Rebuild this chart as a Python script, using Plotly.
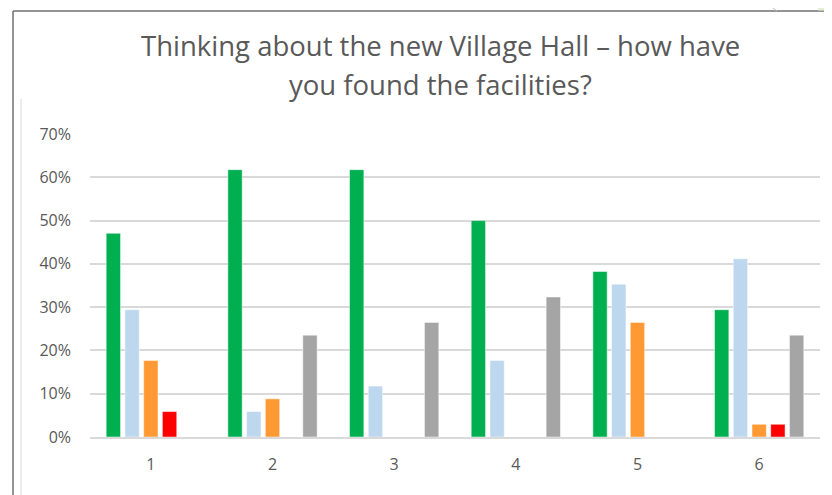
import plotly.graph_objects as go

categories = ["1", "2", "3", "4", "5", "6"]
series_names = ["Series A", "Series B", "Series C", "Series D", "Series E"]
green = [0.4706, 0.6176, 0.6176, 0.50, 0.3824, 0.2941]
light_blue = [0.2941, 0.0588, 0.1176, 0.1765, 0.3529, 0.4118]
orange = [0.1765, 0.0882, 0.0, 0.0, 0.2647, 0.0294]
red = [0.0588, 0.0, 0.0, 0.0, 0.0, 0.0294]
gray = [0.0, 0.2353, 0.2647, 0.3235, 0.0, 0.2353]
y_ticks = [0, 0.1, 0.2, 0.3, 0.4, 0.5, 0.6, 0.7]
y_tick_labels = ["0%", "10%", "20%", "30%", "40%", "50%", "60%", "70%"]
title_lines = ["Thinking about the new Village Hall – how have", "you found the facilities?"]

colors = ["#00B050", "#BDD7EE", "#FF9933", "#FF0000", "#A5A5A5"]
values = [green, light_blue, orange, red, gray]
FONT = "Open Sans, Lato, sans-serif"

fig = go.Figure()
for name, vals, col in zip(series_names, values, colors):
    fig.add_trace(go.Bar(
        x=categories, y=vals, name=name,
        marker=dict(color=col, line=dict(color="rgba(255,255,255,0.6)", width=0.8)),
    ))

# page has an 8px body margin: work in figure coordinates = viewport - 8
OFF = 8
W, H = 832, 495
L, T = 90 - OFF, 134 - OFF
R = W - (820 - OFF)
B = H - (437 - OFF)
pw = W - L - R
ph = H - T - B

def px(x):
    return (x - OFF - L) / pw

def py(y):
    return (H - B - (y - OFF)) / ph

shapes = [
    dict(type="line", xref="paper", yref="paper", x0=px(13), x1=px(840), y0=py(11), y1=py(11),
         line=dict(color="#707070", width=1.5)),
    dict(type="line", xref="paper", yref="paper", x0=px(13), x1=px(13), y0=py(11), y1=py(503),
         line=dict(color="#707070", width=1.5)),
    dict(type="line", xref="paper", yref="paper", x0=px(21), x1=px(21), y0=py(99), y1=py(503),
         line=dict(color="#D9D9D9", width=1)),
    dict(type="line", xref="paper", yref="paper", x0=px(773), x1=px(777), y0=py(8), y1=py(11),
         line=dict(color="#BFBFBF", width=1)),
    dict(type="rect", xref="paper", yref="paper", x0=px(818), x1=px(840), y0=py(8), y1=py(10.5),
         line=dict(width=0), fillcolor="#E2EFD0"),
]

annotations = [
    dict(text=title_lines[0], xref="paper", yref="paper", x=px(440), y=py(45),
         xanchor="center", yanchor="middle", showarrow=False,
         font=dict(family=FONT, size=27.5, color="#595959")),
    dict(text=title_lines[1], xref="paper", yref="paper", x=px(440), y=py(85),
         xanchor="center", yanchor="middle", showarrow=False,
         font=dict(family=FONT, size=27.5, color="#595959")),
]

fig.update_layout(
    width=W, height=H,
    margin=dict(l=L, r=R, t=T, b=B),
    paper_bgcolor="white", plot_bgcolor="white",
    barmode="group", bargap=0.23, bargroupgap=0.235,
    showlegend=False,
    font=dict(family=FONT, color="#595959"),
    xaxis=dict(showgrid=False, showline=True, linecolor="#D9D9D9", linewidth=1.5,
               ticks="", tickfont=dict(size=16, color="#595959"), ticklabelstandoff=12,
               zeroline=False),
    yaxis=dict(range=[0, 0.7], tickvals=y_ticks, ticktext=y_tick_labels,
               showgrid=True, gridcolor="#D9D9D9", gridwidth=1.5, zeroline=False,
               showline=False, ticks="", tickfont=dict(size=16, color="#595959"),
               ticklabelstandoff=18),
    shapes=shapes,
    annotations=annotations,
)

fig.write_html("out.html")
